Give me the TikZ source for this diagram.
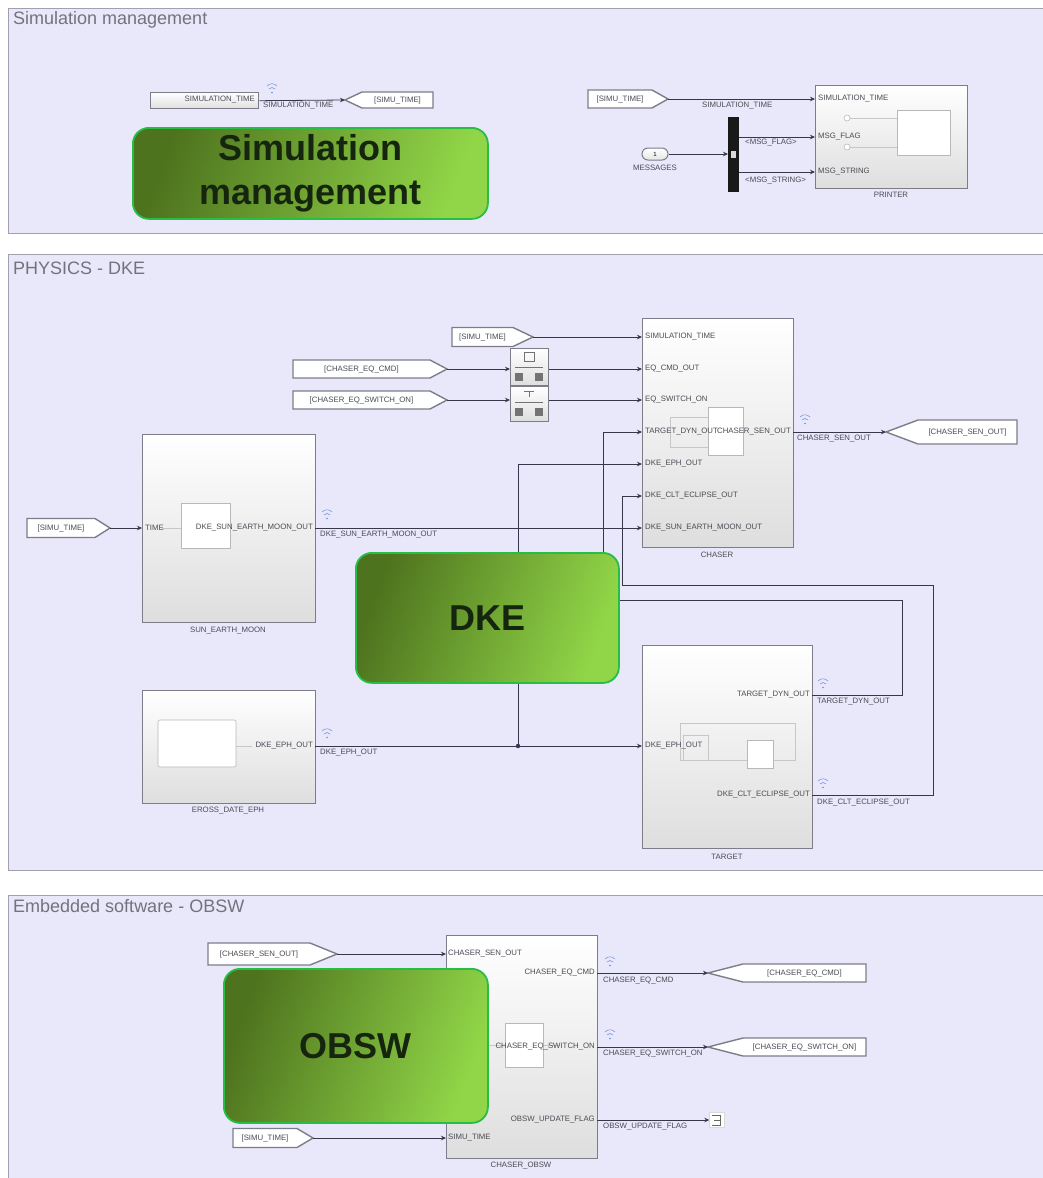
\documentclass[tikz,border=0pt]{standalone}
\usepackage{fontspec}
\setmainfont{Liberation Sans}
\usetikzlibrary{arrows.meta,shadings}

\definecolor{panelfill}{RGB}{232,232,250}
\definecolor{panelline}{RGB}{160,160,175}
\definecolor{wirecol}{RGB}{55,55,75}
\definecolor{txt}{RGB}{75,75,85}
\definecolor{titletxt}{RGB}{115,115,125}
\definecolor{gdark}{RGB}{78,115,30}
\definecolor{glight}{RGB}{145,214,72}
\definecolor{gedge}{RGB}{40,190,70}
\definecolor{gtext}{RGB}{22,38,14}
\definecolor{logblue}{RGB}{110,140,215}
\definecolor{blkedge}{RGB}{125,125,138}

% From tag: name, left x, tip x, mid y, tip depth, half height, text
\newcommand{\fromtag}[7]{%
  \draw[tagedge] (#2,#4-#6) -- ({#3-#5},#4-#6) -- (#3,#4) -- ({#3-#5},#4+#6) -- (#2,#4+#6) -- cycle;
  \node[tiny] (#1) at ({(#2+#3-#5)/2},#4) {#7};
  \coordinate (#1-port) at (#3,#4);
}
% Goto tag: name, tip x, right x, mid y, tip depth, half height, text
\newcommand{\gototag}[7]{%
  \draw[tagedge] (#2,#4) -- ({#2+#5},#4-#6) -- (#3,#4-#6) -- (#3,#4+#6) -- ({#2+#5},#4+#6) -- cycle;
  \node[tiny] (#1) at ({(#2+#5+#3)/2},#4) {#7};
  \coordinate (#1-port) at (#2,#4);
}
% Signal logging mark
\newcommand{\logmark}[2]{%
  \draw[logblue, line width=0.5pt] (#1-5,#2-2) .. controls (#1-2,#2-5) and (#1+2,#2-5) .. (#1+5,#2-2);
  \draw[logblue, line width=0.5pt] (#1-3,#2+1) .. controls (#1-1,#2-1) and (#1+1,#2-1) .. (#1+3,#2+1);
  \fill[logblue] (#1,#2+4.5) circle (0.9pt);
}

\begin{document}
\begin{tikzpicture}[x=1pt,y=-1pt,
  tiny/.style={font=\fontsize{7.8}{9}\selectfont, text=txt, inner sep=0pt},
  paneltitle/.style={font=\fontsize{18}{21}\selectfont, text=titletxt, inner sep=0pt, anchor=west},
  panel/.style={draw=panelline, line width=0.8pt, fill=panelfill},
  wire/.style={draw=wirecol, line width=0.8pt},
  arr/.style={wire, -{Stealth[length=5pt,width=4.5pt]}},
  blk/.style={draw=blkedge, line width=1.4pt, top color=white, bottom color=black!13, inner sep=0pt, anchor=north west},
  tagedge/.style={draw=blkedge, line width=1.4pt, fill=white},
  faint/.style={draw=black!22, line width=0.5pt},
  innerbox/.style={draw=black!28, line width=0.6pt, fill=white},
  greenbox/.style={draw=gedge, line width=1.8pt, rounded corners=16pt, left color=gdark, right color=glight, shading angle=70, anchor=north west, font=\fontsize{36}{44}\selectfont\bfseries, text=gtext, align=center, inner sep=0pt},
]
\useasboundingbox (0,0) rectangle (1043,1178);
\fill[white] (0,0) rectangle (1043,1178);
\clip (0,0) rectangle (1043,1178);

% ---------- panels ----------
\draw[panel] (8,8) rectangle (1060,233);
\draw[panel] (8,254) rectangle (1060,870);
\draw[panel] (8,895) rectangle (1060,1195);
\node[paneltitle] at (13,20) {Simulation management};
\node[paneltitle] at (13,268) {PHYSICS - DKE};
\node[paneltitle] at (13,906) {Embedded software - OBSW};

% ---------- simulation management ----------
\node[blk, minimum width=108pt, minimum height=16pt] (simtime) at (150,92) {};
\node[tiny, anchor=east] at (255,100) {SIMULATION\_TIME};
\gototag{gSimu}{345}{433}{100}{17}{8}{[SIMU\_TIME]}
\draw[arr] (simtime.east) -- (gSimu-port);
\node[tiny, anchor=west] at (263,106) {SIMULATION\_TIME};
\logmark{272}{88}

\node[blk, minimum width=152pt, minimum height=103pt] (printer) at (815,85) {};
\draw[innerbox] (897,110) rectangle (950,155);
\draw[faint] (850,118) -- (897,118);
\draw[faint] (850,147) -- (897,147);
\draw[black!30, fill=white, line width=0.5pt] (847,118) circle (3pt);
\draw[black!30, fill=white, line width=0.5pt] (847,147) circle (3pt);
\node[tiny, anchor=west] at (818,99) {SIMULATION\_TIME};
\node[tiny, anchor=west] at (818,137) {MSG\_FLAG};
\node[tiny, anchor=west] at (818,172) {MSG\_STRING};
\node[tiny] at (891,195) {PRINTER};
\coordinate (prIn2) at (815,137);
\coordinate (prIn3) at (815,172);

\fromtag{fSimuP}{588}{668}{99}{16}{9}{[SIMU\_TIME]}
\draw[arr] (fSimuP-port) -- (fSimuP-port -| printer.west);
\node[tiny, anchor=west] at (702,106) {SIMULATION\_TIME};

\node[fill=black!90, inner sep=0pt, minimum width=11pt, minimum height=75pt, anchor=north west] (bus) at (728,117) {};
\fill[white!85!black] (731,151) rectangle (736,158);
\node[draw=blkedge, line width=1pt, top color=white, bottom color=black!10, rounded corners=6pt, minimum width=26pt, minimum height=12pt, inner sep=0pt, font=\fontsize{6}{7}\selectfont] (msgs) at (655,154) {1};
\node[tiny] at (655,168) {MESSAGES};
\draw[arr] (msgs.east) -- (msgs.east -| bus.west);
\draw[arr] (prIn2 -| bus.east) -- (prIn2);
\draw[arr] (prIn3 -| bus.east) -- (prIn3);
\node[tiny, anchor=west] at (745,143) {<MSG\_FLAG>};
\node[tiny, anchor=west] at (745,181) {<MSG\_STRING>};

% ---------- physics: chaser ----------
\node[blk, minimum width=151pt, minimum height=229pt] (chaser) at (642,318) {};
\draw[faint] (670,417) rectangle (708,447);
\draw[innerbox] (708,407) rectangle (743,455);
\coordinate (chIn1) at (642,337);
\coordinate (chIn2) at (642,369);
\coordinate (chIn3) at (642,400);
\coordinate (chIn4) at (642,432);
\coordinate (chIn5) at (642,464);
\coordinate (chIn6) at (642,496);
\coordinate (chIn7) at (642,528);
\coordinate (chOut) at (793,432);
\node[tiny, anchor=west] at (645,337) {SIMULATION\_TIME};
\node[tiny, anchor=west] at (645,369) {EQ\_CMD\_OUT};
\node[tiny, anchor=west] at (645,400) {EQ\_SWITCH\_ON};
\node[tiny, anchor=west] at (645,432) {TARGET\_DYN\_OUT};
\node[tiny, anchor=west] at (645,464) {DKE\_EPH\_OUT};
\node[tiny, anchor=west] at (645,496) {DKE\_CLT\_ECLIPSE\_OUT};
\node[tiny, anchor=west] at (645,528) {DKE\_SUN\_EARTH\_MOON\_OUT};
\node[tiny, anchor=east] at (791,432) {CHASER\_SEN\_OUT};
\node[tiny] at (717,555) {CHASER};

\fromtag{fSimuD}{452}{533}{337}{20}{9.5}{[SIMU\_TIME]}
\fromtag{fCmd}{293}{447}{369}{17}{9}{[CHASER\_EQ\_CMD]}
\fromtag{fSw}{293}{447}{400}{17}{9}{[CHASER\_EQ\_SWITCH\_ON]}

\node[blk, minimum width=38pt, minimum height=37pt] (rt1) at (510,348) {};
\node[blk, minimum width=38pt, minimum height=35pt] (rt2) at (510,386) {};
\draw[black!55, line width=0.6pt] (524,352) rectangle (534,361);
\draw[black!55, line width=0.5pt] (515,367) -- (543,367);
\fill[black!55] (515,373) rectangle (523,381);
\fill[black!55] (535,373) rectangle (543,381);
\draw[black!55, line width=0.5pt] (524,391) -- (534,391) (529,391) -- (529,397);
\draw[black!55, line width=0.5pt] (515,402) -- (543,402);
\fill[black!55] (515,408) rectangle (523,416);
\fill[black!55] (535,408) rectangle (543,416);

\draw[arr] (fSimuD-port) -- (chIn1);
\draw[arr] (fCmd-port) -- (fCmd-port -| rt1.west);
\draw[arr] (fCmd-port -| rt1.east) -- (chIn2);
\draw[arr] (fSw-port) -- (fSw-port -| rt2.west);
\draw[arr] (fSw-port -| rt2.east) -- (chIn3);

\gototag{gSen}{886}{1017}{432}{32}{12}{[CHASER\_SEN\_OUT]}
\draw[arr] (chOut) -- (gSen-port);
\node[tiny, anchor=west] at (797,439) {CHASER\_SEN\_OUT};
\logmark{805}{419}

% ---------- physics: sun / earth / moon ----------
\node[blk, minimum width=173pt, minimum height=188pt] (sem) at (142,434) {};
\draw[faint] (162,528) -- (181,528);
\draw[innerbox] (181,503) rectangle (230,548);
\node[tiny, anchor=west] at (145,528) {TIME};
\node[tiny, anchor=east] at (313,528) {DKE\_SUN\_EARTH\_MOON\_OUT};
\node[tiny] at (228,631) {SUN\_EARTH\_MOON};
\coordinate (semIn) at (142,528);
\coordinate (semOut) at (315,528);
\fromtag{fSimuS}{27}{110}{528}{15}{9.5}{[SIMU\_TIME]}
\draw[arr] (fSimuS-port) -- (semIn);
\draw[arr] (semOut) -- (chIn7);
\node[tiny, anchor=west] at (320,535) {DKE\_SUN\_EARTH\_MOON\_OUT};
\logmark{327}{514}

% ---------- physics: ephemeris ----------
\node[blk, minimum width=173pt, minimum height=113pt] (eph) at (142,690) {};
\draw[innerbox, rounded corners=2pt] (158,720) rectangle (236,767);
\draw[faint] (236,746) -- (252,746);
\node[tiny, anchor=east] at (313,746) {DKE\_EPH\_OUT};
\node[tiny] at (228,811) {EROSS\_DATE\_EPH};
\coordinate (ephOut) at (315,746);
\node[tiny, anchor=west] at (320,753) {DKE\_EPH\_OUT};
\logmark{327}{733}

% ---------- physics: target ----------
\node[blk, minimum width=170pt, minimum height=203pt] (target) at (642,645) {};
\draw[faint] (680,723) rectangle (795,760);
\draw[faint] (683,735) rectangle (708,760);
\draw[innerbox] (747,740) rectangle (773,768);
\coordinate (tgIn) at (642,746);
\coordinate (tgDyn) at (812,695);
\coordinate (tgClt) at (812,795);
\node[tiny, anchor=west] at (645,746) {DKE\_EPH\_OUT};
\node[tiny, anchor=east] at (810,695) {TARGET\_DYN\_OUT};
\node[tiny, anchor=east] at (810,795) {DKE\_CLT\_ECLIPSE\_OUT};
\node[tiny] at (727,857) {TARGET};
\node[tiny, anchor=west] at (817,702) {TARGET\_DYN\_OUT};
\node[tiny, anchor=west] at (817,803) {DKE\_CLT\_ECLIPSE\_OUT};
\logmark{823}{683}
\logmark{823}{783}

% ---------- physics: routing ----------
\coordinate (J) at (518,746);
\coordinate (dynA) at (902,600);
\coordinate (dynB) at (603,600);
\coordinate (cltA) at (933,585);
\coordinate (cltB) at (622,585);
\draw[arr] (ephOut) -- (tgIn);
\draw[arr] (J) |- (chIn5);
\fill[wirecol] (J) circle (2.2pt);
\draw[arr] (tgDyn) -| (dynA) -- (dynB) |- (chIn4);
\draw[arr] (tgClt) -| (cltA) -- (cltB) |- (chIn6);

% ---------- embedded software ----------
\node[blk, minimum width=151pt, minimum height=223pt] (obsw) at (446,935) {};
\draw[faint] (470,1045) -- (505,1045) (543,1045) -- (560,1045);
\draw[innerbox] (505,1023) rectangle (543,1067);
\coordinate (obIn1) at (446,954);
\coordinate (obIn2) at (446,1138);
\coordinate (obOut1) at (597,973);
\coordinate (obOut2) at (597,1047);
\coordinate (obOut3) at (597,1120);
\node[tiny, anchor=west] at (448,954) {CHASER\_SEN\_OUT};
\node[tiny, anchor=west] at (448,1138) {SIMU\_TIME};
\node[tiny, anchor=east] at (595,973) {CHASER\_EQ\_CMD};
\node[tiny, anchor=east] at (595,1047) {CHASER\_EQ\_SWITCH\_ON};
\node[tiny, anchor=east] at (595,1120) {OBSW\_UPDATE\_FLAG};
\node[tiny] at (521,1166) {CHASER\_OBSW};

\fromtag{fSen}{208}{337}{954}{27}{11}{[CHASER\_SEN\_OUT]}
\fromtag{fSimuO}{233}{313}{1138}{16}{9.5}{[SIMU\_TIME]}
\gototag{gCmd}{708}{866}{973}{35}{9}{[CHASER\_EQ\_CMD]}
\gototag{gSw}{708}{866}{1047}{35}{9}{[CHASER\_EQ\_SWITCH\_ON]}
\node[draw=black!15, fill=white, minimum width=15pt, minimum height=15pt, inner sep=0pt] (term) at (717,1120) {};
\draw[black!60, line width=0.6pt] (712,1115) -- (720,1115) -- (720,1125) -- (712,1125) (714,1120) -- (720,1120);

\draw[arr] (fSen-port) -- (obIn1);
\draw[arr] (fSimuO-port) -- (obIn2);
\draw[arr] (obOut1) -- (gCmd-port);
\draw[arr] (obOut2) -- (gSw-port);
\draw[arr] (obOut3) -- (term.west);
\node[tiny, anchor=west] at (603,981) {CHASER\_EQ\_CMD};
\node[tiny, anchor=west] at (603,1054) {CHASER\_EQ\_SWITCH\_ON};
\node[tiny, anchor=west] at (603,1127) {OBSW\_UPDATE\_FLAG};
\logmark{610}{961}
\logmark{610}{1034}

% ---------- overlay labels ----------
\node[greenbox, minimum width=355pt, minimum height=91pt] (gSim) at (132,127) {Simulation\\management};
\node[greenbox, minimum width=263pt, minimum height=130pt] (gDke) at (355,552) {DKE};
\node[greenbox, minimum width=264pt, minimum height=154pt] (gObsw) at (223,968) {OBSW};
\end{tikzpicture}
\end{document}
